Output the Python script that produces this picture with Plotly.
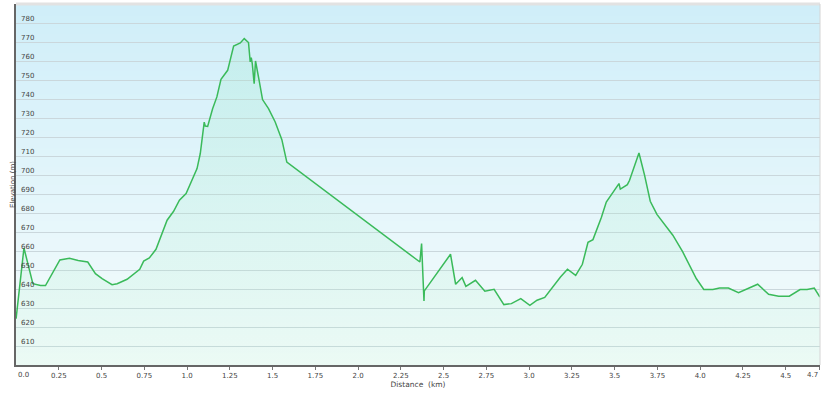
import plotly.graph_objects as go

dist_km = [0.0, 0.046, 0.098, 0.143, 0.172, 0.221, 0.256, 0.312, 0.363, 0.419,
           0.464, 0.503, 0.561, 0.591, 0.649, 0.723, 0.746, 0.779, 0.818, 0.883,
           0.921, 0.955, 0.994, 1.058, 1.077, 1.100, 1.106, 1.120, 1.149, 1.174,
           1.198, 1.237, 1.272, 1.311, 1.334, 1.359, 1.369, 1.375, 1.381, 1.392,
           1.400, 1.421, 1.441, 1.476, 1.515, 1.554, 1.583, 2.361, 2.371, 2.385,
           2.387, 2.540, 2.570, 2.608, 2.630, 2.686, 2.741, 2.795, 2.852, 2.896,
           2.951, 3.004, 3.046, 3.091, 3.140, 3.183, 3.224, 3.272, 3.311, 3.344,
           3.373, 3.422, 3.451, 3.500, 3.525, 3.533, 3.574, 3.587, 3.642, 3.675,
           3.708, 3.747, 3.798, 3.840, 3.898, 3.977, 4.021, 4.074, 4.113, 4.165,
           4.224, 4.336, 4.400, 4.459, 4.521, 4.584, 4.625, 4.667, 4.700]

elevation_m = [624.4, 661.6, 642.8, 641.9, 641.8, 649.8, 655.3, 656.2, 655.0, 654.2,
               648.1, 645.5, 642.3, 642.8, 645.1, 650.4, 654.7, 656.3, 660.9, 676.2,
               680.9, 686.7, 690.2, 703.4, 711.3, 727.8, 725.8, 725.6, 734.9, 741.1,
               750.4, 755.1, 767.9, 769.5, 771.8, 769.7, 759.5, 761.8, 758.6, 748.1,
               760.0, 749.8, 739.7, 734.9, 727.9, 718.6, 706.8, 654.2, 663.9, 633.7,
               639.0, 658.3, 642.5, 646.0, 641.4, 644.6, 638.8, 639.8, 631.8, 632.3,
               634.9, 631.4, 634.1, 635.6, 641.4, 646.3, 650.4, 647.2, 653.0, 664.6,
               666.0, 677.6, 685.8, 692.3, 695.5, 692.6, 694.9, 697.2, 711.6, 699.8,
               686.2, 679.3, 673.5, 668.3, 659.5, 645.5, 639.8, 639.8, 640.5, 640.5,
               638.1, 642.5, 637.2, 636.2, 636.2, 639.7, 639.7, 640.5, 635.8]

x_tick_vals = [0.0, 0.25, 0.5, 0.75, 1.0, 1.25, 1.5, 1.75, 2.0, 2.25, 2.5, 2.75,
               3.0, 3.25, 3.5, 3.75, 4.0, 4.25, 4.5, 4.7]
x_tick_text = ["0.0", "0.25", "0.5", "0.75", "1.0", "1.25", "1.5", "1.75", "2.0",
               "2.25", "2.5", "2.75", "3.0", "3.25", "3.5", "3.75", "4.0", "4.25",
               "4.5", "4.7"]
y_tick_vals = [610, 620, 630, 640, 650, 660, 670, 680, 690, 700, 710, 720, 730,
               740, 750, 760, 770, 780]

Y_MIN, Y_MAX = 600, 790
X_MIN, X_MAX = -0.0005, 4.7005

fig = go.Figure()

fig.add_trace(go.Scatter(
    x=dist_km, y=elevation_m, mode="lines",
    line=dict(color="#3aba5a", width=1.5),
    fill="tozeroy",
    fillgradient=dict(type="vertical", start=Y_MIN, stop=775,
                      colorscale=[[0, "rgba(180,240,205,0.16)"],
                                  [1, "rgba(140,232,190,0.20)"]]),
    hoverinfo="skip", showlegend=False,
))

# background vertical gradient (bands, drawn below the gridlines)
shapes = []
n = 60
top = (207, 238, 249)
bot = (246, 252, 252)
for i in range(n):
    t0 = i / n
    t1 = (i + 1) / n
    tm = (t0 + t1) / 2
    c = tuple(round(bot[k] + (top[k] - bot[k]) * tm) for k in range(3))
    shapes.append(dict(type="rect", xref="paper", yref="paper",
                       x0=0, x1=1, y0=t0, y1=t1 + 0.002,
                       fillcolor=f"rgb{c}", line=dict(width=0), layer="below"))
shapes.append(dict(type="line", xref="paper", yref="paper", x0=0, x1=1, y0=1, y1=1,
                   line=dict(color="#e2e2e2", width=3), layer="above"))
shapes.append(dict(type="line", xref="paper", yref="paper", x0=1, x1=1, y0=0, y1=1,
                   line=dict(color="#d4d4d4", width=1), layer="above"))

tick_font = dict(family="DejaVu Sans", size=7, color="#444444")

# the first and last distance labels sit inside the axis ends
shown_text = list(x_tick_text)
shown_text[0] = ""
shown_text[-1] = ""
annotations = [
    dict(x=x_tick_vals[0], y=0, xref="x", yref="paper", text=x_tick_text[0],
         xanchor="left", yanchor="top", yshift=-4, showarrow=False, font=tick_font),
    dict(x=x_tick_vals[-1], y=0, xref="x", yref="paper", text=x_tick_text[-1],
         xanchor="right", yanchor="top", yshift=-4, showarrow=False, font=tick_font),
]

fig.update_layout(
    width=825, height=393,
    margin=dict(l=16, r=5, t=4, b=28),
    paper_bgcolor="white",
    plot_bgcolor="rgba(0,0,0,0)",
    shapes=shapes,
    annotations=annotations,
    xaxis=dict(
        range=[X_MIN, X_MAX], tickvals=x_tick_vals, ticktext=shown_text,
        showgrid=False, zeroline=False,
        showline=True, linecolor="#666666", linewidth=1.5,
        ticks="outside", ticklen=3, tickcolor="#777777", tickwidth=1,
        tickfont=tick_font, ticklabeloverflow="allow",
        title=dict(text="Distance\u00a0 (km)", font=dict(family="DejaVu Sans", size=7.5, color="#444444"),
                   standoff=2),
    ),
    yaxis=dict(
        range=[Y_MIN, Y_MAX], tickvals=y_tick_vals,
        showgrid=True, gridcolor="#cad7dc", gridwidth=1.2,
        zeroline=False,
        showline=True, linecolor="#666666", linewidth=1.5,
        ticks="", ticklabelposition="inside top", ticklabelstandoff=3,
        tickfont=tick_font,
        title=dict(text="Elevation (m)", font=dict(family="DejaVu Sans", size=7, color="#444444"),
                   standoff=5),
    ),
)

fig.write_html("out.html")
